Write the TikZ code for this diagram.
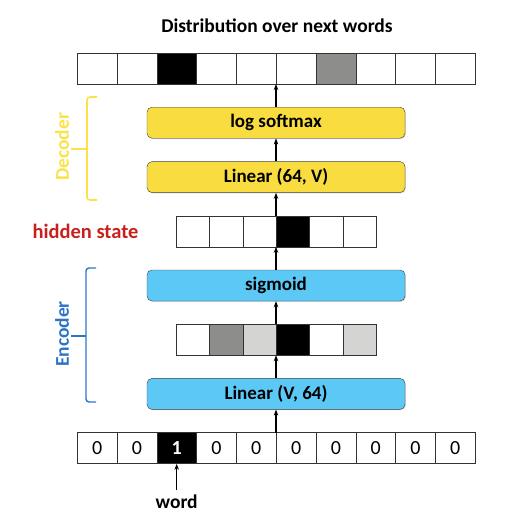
\documentclass[tikz,border=0pt]{standalone}
\usepackage{fontspec}
\setmainfont{Carlito}
\usetikzlibrary{positioning,arrows.meta,shadows}

\definecolor{decfill}{RGB}{249,220,64}
\definecolor{encfill}{RGB}{92,200,246}
\definecolor{decline}{RGB}{250,226,72}
\definecolor{encline}{RGB}{45,115,200}
\definecolor{hidred}{RGB}{200,32,30}
\definecolor{midgray}{RGB}{141,141,139}
\definecolor{lightgray}{RGB}{212,213,211}

\begin{document}
\begin{tikzpicture}[
    x=1pt, y=1pt,
    node distance=23pt,
    >=Stealth,
    layer/.style={draw=black!75, rounded corners=5pt, minimum width=258pt,
      minimum height=31pt, inner sep=0pt,
      font=\bfseries\fontsize{19}{22}\selectfont,
      drop shadow={shadow xshift=0.8pt, shadow yshift=-0.8pt, opacity=0.35}},
    vec/.style={minimum height=31pt, inner sep=0pt, outer sep=0pt},
    cell/.style={draw=black!80, minimum height=31pt, inner sep=0pt, anchor=west,
      font=\fontsize{20}{22}\selectfont},
    arr/.style={->, line width=1.1pt, >={Stealth[length=6pt,width=4.5pt]}},
    lbl/.style={font=\bfseries\fontsize{19.5}{22}\selectfont}
  ]
    \useasboundingbox (0,0) rectangle (510,-522);
    % Output vector
    \node (title) [lbl] at (277,-26) {Distribution over next words};
    \node (outvec) [vec, minimum width=398pt] at (276,-68.5) {};
    \foreach \c [count=\i] in {white,white,black,white,white,white,midgray,white,white,white}
      \node (out\i) [cell, minimum width=39.8pt, fill=\c] at ([xshift={(\i-1)*39.8pt}]outvec.west) {};
    % Decoder
    \node (lsm)  [layer, fill=decfill, below=of outvec] {log softmax};
    \node (lin2) [layer, fill=decfill, below=of lsm] {Linear (64, V)};
    % Hidden state
    \node (hidvec) [vec, minimum width=200pt, below=of lin2] {};
    \foreach \c [count=\i] in {white,white,white,black,white,white}
      \node (hid\i) [cell, minimum width=33.33pt, fill=\c] at ([xshift={(\i-1)*33.33pt}]hidvec.west) {};
    \node (hidlbl) [lbl, font=\bfseries\fontsize{20.5}{22}\selectfont, text=hidred, left=34pt of hidvec] {hidden state};
    % Encoder
    \node (sig) [layer, fill=encfill, below=of hidvec] {sigmoid};
    \node (midvec) [vec, minimum width=200pt, below=of sig] {};
    \foreach \c [count=\i] in {white,midgray,lightgray,black,white,lightgray}
      \node (mid\i) [cell, minimum width=33.33pt, fill=\c] at ([xshift={(\i-1)*33.33pt}]midvec.west) {};
    \node (lin1) [layer, fill=encfill, below=of midvec] {Linear (V, 64)};
    % One-hot input
    \node (invec) [vec, minimum width=398pt, below=of lin1] {};
    \foreach \f/\tc/\t [count=\i] in {white/black/0,white/black/0,black/white/\bfseries 1,white/black/0,white/black/0,
        white/black/0,white/black/0,white/black/0,white/black/0,white/black/0}
      \node (in\i) [cell, minimum width=39.8pt, fill=\f, text=\tc] at ([xshift={(\i-1)*39.8pt}]invec.west) {\t};
    \node (word) [lbl, inner sep=5pt] at (in3.center |- 0,-502) {word};
    % Arrows
    \draw[arr] (word) -- (in3);
    \draw[arr] (invec) -- (lin1);
    \draw[arr] (lin1) -- (midvec);
    \draw[arr] (midvec) -- (sig);
    \draw[arr] (sig) -- (hidvec);
    \draw[arr] (hidvec) -- (lin2);
    \draw[arr] (lin2) -- (lsm);
    \draw[arr] (lsm) -- (outvec);
    % Braces
    \draw[decline, line width=1.6pt, rounded corners=3pt] (97,-97) -- (87,-97) -- (87,-200) -- (97,-200);
    \draw[decline, line width=1.6pt] (87,-149) -- (71,-149);
    \node (declbl) [lbl, text=decline, rotate=90] at (62,-147) {Decoder};
    \draw[encline, line width=1.4pt, rounded corners=3pt] (96,-268) -- (86,-268) -- (86,-402) -- (96,-402);
    \draw[encline, line width=1.4pt] (86,-336) -- (71,-336);
    \node (enclbl) [lbl, text=encline, rotate=90] at (62,-334) {Encoder};
\end{tikzpicture}
\end{document}
